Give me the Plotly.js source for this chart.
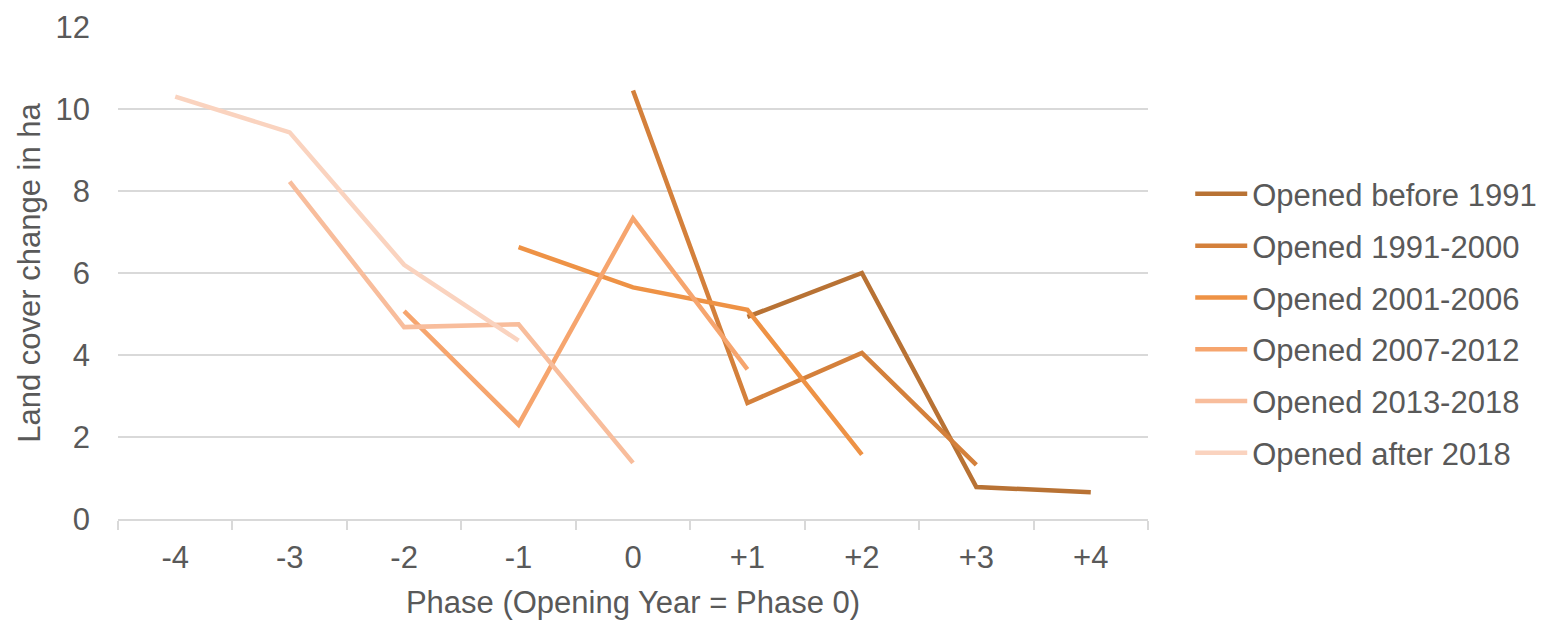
<!DOCTYPE html>
<html>
<head>
<meta charset="utf-8">
<script src="https://cdn.plot.ly/plotly-3.0.1.min.js"></script>
<style>html,body{margin:0;padding:0;background:#fff;}#chart{width:1543px;height:620px;}</style>
</head>
<body>
<div id="chart"></div>
<script>
const phases = ["-4", "-3", "-2", "-1", "0", "+1", "+2", "+3", "+4"];
const seriesNames = ["Opened before 1991", "Opened 1991-2000", "Opened 2001-2006", "Opened 2007-2012", "Opened 2013-2018", "Opened after 2018"];
const before1991 = [null, null, null, null, null, 4.93, 6.0, 0.78, 0.65];
const y1991_2000 = [null, null, null, null, 10.45, 2.83, 4.05, 1.32, null];
const y2001_2006 = [null, null, null, 6.63, 5.65, 5.1, 1.57, null, null];
const y2007_2012 = [null, null, 5.07, 2.3, 7.33, 3.65, null, null, null];
const y2013_2018 = [null, 8.23, 4.68, 4.75, 1.37, null, null, null, null];
const after2018 = [10.3, 9.43, 6.2, 4.35, null, null, null, null, null];
const seriesValues = [before1991, y1991_2000, y2001_2006, y2007_2012, y2013_2018, after2018];
const colors = ["#B87234", "#D4803B", "#EE9245", "#F6A56E", "#F8BD9C", "#FAD3BF"];

const traces = seriesNames.map((n, i) => ({
  type: "scatter",
  mode: "lines",
  name: n,
  x: phases,
  y: seriesValues[i],
  legendgroup: "g" + i,
  line: {color: colors[i], width: 4.5},
  connectgaps: false,
  hoverinfo: "x+y+name"
}));

const font = {family: "Liberation Sans, Arial, sans-serif", color: "#595959", size: 31};
const layout = {
  width: 1543, height: 620,
  margin: {l: 118, r: 395, t: 27, b: 101, autoexpand: false},
  paper_bgcolor: "#fff", plot_bgcolor: "#fff",
  font: font,
  showlegend: true,
  legend: {x: 1.041, xanchor: "left", y: 0.715, yanchor: "top", font: font, tracegroupgap: 8.5, itemwidth: 52, bgcolor: "rgba(0,0,0,0)", traceorder: "grouped"},
  xaxis: {
    type: "category",
    categoryorder: "array", categoryarray: phases,
    range: [-0.5, 8.5],
    showgrid: false, zeroline: false,
    showline: true, linecolor: "#d9d9d9", linewidth: 2,
    ticks: "outside", tickson: "boundaries", ticklen: 9, tickcolor: "#d9d9d9", tickwidth: 2,
    tickfont: font, ticklabelstandoff: 10,
    title: {text: "Phase (Opening Year = Phase 0)", font: font, standoff: 18},
    fixedrange: true
  },
  yaxis: {
    range: [0, 12], dtick: 2,
    showgrid: true, gridcolor: "#d9d9d9", gridwidth: 2,
    zeroline: false, showline: false,
    ticks: "", tickfont: font, ticklabelstandoff: 27,
    title: {text: "Land cover change in ha", font: font, standoff: 5},
    fixedrange: true
  }
};
Plotly.newPlot("chart", traces, layout, {displayModeBar: false, staticPlot: true});
</script>
</body>
</html>
